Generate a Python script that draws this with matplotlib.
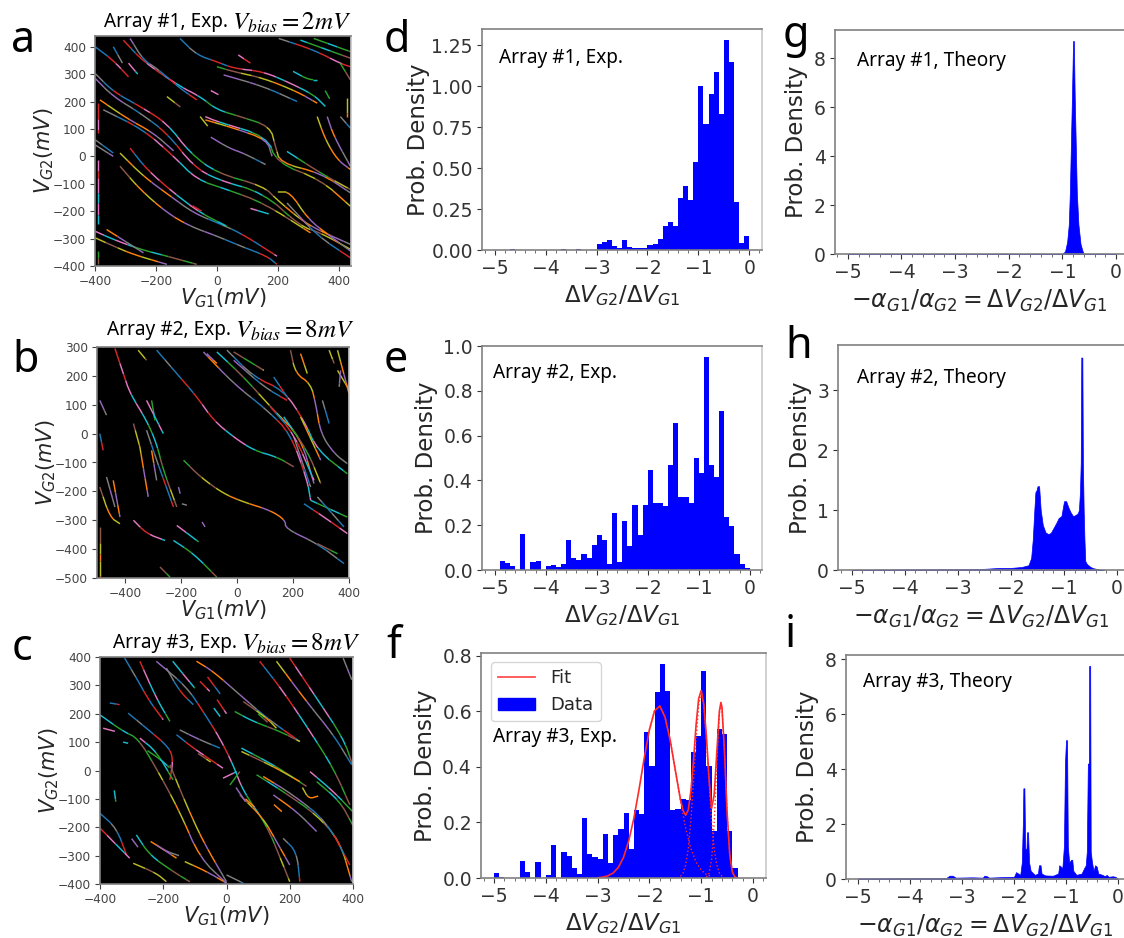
import numpy as np
import matplotlib
matplotlib.use("Agg")
import matplotlib.pyplot as plt
from matplotlib.collections import LineCollection
from matplotlib.lines import Line2D
from matplotlib.patches import Patch
from matplotlib.ticker import MultipleLocator

# ---------- histogram data (bin edges -5.0 ... 0.0, width 0.1) ----------
bin_edges = np.arange(51) * 0.1 - 5.0
hist_d = [0, 0, 0, .004, 0, 0, 0, 0, 0, 0,
          0, 0, 0, .008, 0, 0, .008, 0, 0, 0,
          .035, .05, .06, .025, .01, .06, .02, .012, .012, .012,
          .03, .035, .065, .145, .17, .145, .315, .39, .305, .54,
          1.0, .77, .95, 1.085, .83, 1.28, 1.15, .295, .04, .085]
hist_e = [0, .04, .03, .02, 0, .16, 0, .035, .04, 0,
          .018, .022, .015, .025, .135, .055, .045, .07, .055, .11,
          .155, .135, .025, .255, .035, .22, .105, .29, .155, .29,
          .445, .3, .3, .285, .47, .655, .325, .325, .3, .5,
          .435, .95, .47, .415, .71, .235, .195, .07, .025, .008]
hist_f = [.017, .005, 0, 0, 0, .062, .02, 0, .058, 0,
          .012, .12, 0, .095, .08, .037, .015, .215, .088, .075,
          .07, .158, .055, .155, .175, .235, .105, .245, .23, .525,
          .405, .67, .77, .675, .245, .25, .285, .28, .455, .51,
          .745, .405, .17, .535, .52, .17, .037, 0, 0, 0]

# ---------- fit curves ----------
fit_x = [-3.0, -2.9, -2.8, -2.7, -2.6, -2.5, -2.4, -2.3, -2.2, -2.1, -2.0, -1.9, -1.8, -1.7, -1.6, -1.5, -1.4,
         -1.35, -1.3, -1.25, -1.2, -1.15, -1.1, -1.05, -1.0, -.95, -.9, -.85, -.8, -.75, -.7, -.65, -.62, -.6,
         -.55, -.5, -.45, -.4, -.35, -.3]
fit_y = [.001, .003, .008, .018, .038, .074, .133, .215, .319, .432, .534, .602, .619, .58, .497, .388, .282,
         .243, .226, .245, .312, .42, .55, .645, .675, .625, .51, .36, .25, .30, .45, .60, .632, .615,
         .45, .233, .085, .022, .004, 0]
comp1_x = [-2.0, -1.9, -1.8, -1.7, -1.6, -1.5, -1.4, -1.3, -1.2, -1.1, -1.0, -.9, -.8]
comp1_y = [.534, .602, .619, .58, .497, .388, .276, .179, .106, .0575, .028, .0127, .0052]
comp2_x = [-1.4, -1.35, -1.3, -1.25, -1.2, -1.15, -1.1, -1.05, -1.0, -.95, -.9, -.85, -.8, -.75, -.7, -.65, -.6]
comp2_y = [.006, .018, .047, .105, .206, .344, .498, .622, .67, .622, .498, .344, .206, .105, .047, .018, .006]
comp3_x = [-.9, -.85, -.8, -.75, -.7, -.65, -.62, -.6, -.55, -.5, -.45, -.4, -.35, -.3]
comp3_y = [.003, .016, .067, .196, .405, .592, .63, .613, .449, .233, .085, .022, .004, .0005]

# ---------- theory distributions ----------
theory_g_x = [-5, -1.01, -.95, -.91, -.88, -.86, -.84, -.82, -.80, -.785, -.77, -.75, -.73, -.70, -.66, -.62, -.60, 0]
theory_g_y = [0, 0, .1, .5, 1.2, 2.5, 4.5, 6.5, 8.7, 8.7, 6.5, 4.5, 2.5, 1.2, .4, .1, 0, 0]
theory_h_x = [-5, -4, -3, -2.5, -2.2, -2, -1.8, -1.67, -1.62, -1.59, -1.56, -1.54, -1.52, -1.5, -1.47, -1.44, -1.4,
              -1.35, -1.3, -1.25, -1.2, -1.15, -1.1, -1.05, -1.0, -.96, -.92, -.88, -.83, -.78, -.74, -.72, -.70,
              -.685, -.675, -.655, -.645, -.63, -.615, -.6, -.57, -.5, -.45, -.35, -.25]
theory_h_y = [.003, .01, .012, .02, .035, .035, .05, .08, .2, .5, 1.0, 1.3, 1.33, 1.4, 1.4, 1.0, .75,
              .63, .6, .62, .7, .78, .87, .9, 1.15, 1.15, 1.05, .97, .9, .92, .95, 1.0, 1.3,
              1.8, 3.55, 3.55, 1.8, 1.0, .5, .15, .1, .05, .03, .01, 0]
theory_i_x = [-5, -4, -3.3, -3.24, -3.18, -3.12, -2.8, -2.6, -2.57, -2.52, -2.48, -2.2, -2.0, -1.96, -1.92, -1.88,
              -1.85, -1.83, -1.82, -1.80, -1.785, -1.76, -1.75, -1.73, -1.71, -1.68, -1.6, -1.54, -1.52, -1.49,
              -1.47, -1.4, -1.25, -1.15, -1.13, -1.1, -1.07, -1.04, -1.02, -1.0, -.98, -.965, -.94, -.92, -.9,
              -.88, -.86, -.8, -.7, -.65, -.62, -.6, -.58, -.56, -.555, -.535, -.525, -.5, -.47, -.44, -.41,
              -.38, -.3, -.25, -.22, -.18, -.1, -.05, 0]
theory_i_y = [.02, .03, .04, .12, .12, .05, .06, .05, .12, .1, .05, .07, .08, .25, .2, .15,
              .6, 2.0, 3.3, 3.3, 1.1, 1.1, 1.7, 1.7, .6, .3, .15, .2, .5, .5,
              .2, .13, .12, .2, .5, .45, .4, 1.2, 4.2, 5.05, 5.05, 1.2, .6, .65, .7,
              .7, .3, .15, .2, .4, .5, 1.0, 4.2, 4.2, 7.75, 7.75, 1.0, .6, .3, .5, .45,
              .2, .15, .1, .15, .08, .1, .08, 0]

# ---------- traces in the gate-voltage maps, in mV ----------
traces_a = [
    [(-121, 430), (-66, 370), (0, 345), (55, 321), (153, 309), (241, 267), (318, 224), (356, 182)],
    [(0, 327), (55, 309), (153, 285), (263, 236), (329, 194)],
    [(22, 297), (153, 255), (263, 200)],
    [(-307, 424), (-241, 345), (-121, 255), (-55, 218), (0, 170), (77, 145), (175, 109), (192, 36), (208, -24),
     (340, -61), (438, -133)],
    [(-285, 430), (-241, 351), (-197, 321), (-121, 248), (-66, 206)],
    [(-38, 145), (0, 127), (164, 73), (197, -24), (340, -85), (438, -182)],
    [(-38, 133), (55, 103), (164, 61), (181, 0)],
    [(-400, 303), (-340, 236), (-252, 182), (-164, 121), (-88, 12), (0, -61), (153, -109), (197, -158), (274, -230),
     (329, -267), (438, -321)],
    [(-400, 285), (-340, 218), (-252, 158), (-164, 85), (-77, -36), (0, -85), (153, -133), (274, -255), (340, -279),
     (438, -339)],
    [(-384, 206), (-296, 139), (-208, 85), (-142, 20)],
    [(-373, 170), (-241, 97), (-142, 0), (-66, -85), (33, -121), (153, -170), (307, -279)],
    [(-318, 12), (-241, -73), (-153, -145), (-77, -206), (0, -242), (77, -279), (197, -364)],
    [(-285, 30), (-230, -48), (-142, -133), (-55, -206), (33, -255)],
    [(-318, -36), (-252, -121), (-164, -206), (-88, -255), (0, -291), (77, -327), (164, -364), (197, -394)],
    [(-400, -273), (-340, -303), (-252, -339), (-164, -364), (-66, -394)],
    [(-400, -297), (-340, -327), (-274, -358), (-164, -394)],
    [(-362, -267), (-241, -352)],
    [(-400, 61), (-340, 12)],
    [(-400, 42), (-340, 0)],
    [(203, 430), (318, 388), (405, 339), (438, 327)],
    [(274, 424), (438, 358)],
    [(318, 430), (438, 382)],
    [(405, 339), (438, 279)],
    [(329, 145), (356, 61), (395, -12), (438, -48)],
    [(362, 145), (384, 73), (438, -36)],
    [(405, 145), (438, 103)],
    [(-390, 194), (-390, 85)],
    [(-390, -12), (-390, -110), (-390, -248)],
    [(-390, -345), (-390, -394)],
    [(428, 212), (428, 145)],
    [(-164, 218), (-120, 180)],
    [(-55, 145), (-30, 110)],
    [(-20, 70), (40, 30), (90, 10), (160, -30)],
    [(-340, 400), (-310, 340)],
    [(-400, 400), (-340, 350), (-290, 290)],
    [(-290, 340), (-260, 300)],
    [(70, 370), (110, 340)],
    [(-20, 240), (5, 225)],
    [(250, 310), (300, 280), (330, 280)],
    [(355, 240), (370, 210)],
    [(230, 18), (340, -61), (438, -121)],
    [(200, -130), (240, -130), (300, -230), (370, -290), (438, -345)],
    [(230, -170), (330, -290), (438, -370)],
    [(-80, -180), (-50, -200)],
    [(110, -190), (170, -210)],
]
traces_b = [
    [(-287, 289), (-215, 208), (-143, 127), (-84, 46), (-12, -12), (60, -58), (143, -81), (203, -115)],
    [(-191, -92), (-131, -150), (-48, -208), (24, -237), (120, -266), (173, -300), (173, -329), (287, -381), (382, -450)],
    [(-436, 295), (-406, 208), (-382, 139), (-323, 46), (-287, -35), (-263, -127), (-215, -254)],
    [(-353, 289), (-323, 254)],
    [(-347, -46), (-332, -133), (-317, -219)],
    [(-323, 12), (-287, -92), (-257, -173), (-227, -254)],
    [(-370, -300), (-323, -346), (-257, -370)],
    [(-215, -318), (-137, -375)],
    [(-227, -370), (-155, -416), (-72, -497)],
    [(-275, -462), (-239, -497)],
    [(-490, -323), (-490, -497)],
    [(-490, 115), (-466, 64)],
    [(-120, 283), (-12, 173), (108, 81), (191, 0), (251, -162), (263, -231)],
    [(-72, 283), (24, 196), (131, 81), (227, -12), (275, -173)],
    [(-36, 289), (60, 196), (167, 150), (239, 46), (287, -58), (394, -139)],
    [(-12, 283), (96, 219)],
    [(191, 289), (209, 208), (263, 173), (281, 104), (299, 0), (347, -69), (394, -104)],
    [(305, 115), (329, 35)],
    [(203, -12), (263, -185)],
    [(239, -243), (311, -289), (394, -346)],
    [(263, -231), (394, -289)],
    [(287, -381), (359, -416)],
    [(-490, -185), (-454, -289), (-418, -312)],
    [(-442, -162), (-418, -289)],
    [(-466, -150), (-436, -254)],
    [(-490, 0), (-478, -58)],
    [(-323, 115), (-263, 0)],
    [(-305, 115), (-293, 46)],
    [(-370, 35), (-347, -46)],
    [(359, 219), (394, 162)],
    [(329, 289), (347, 243)],
    [(359, 289), (400, 139)],
    [(370, 219), (365, 162)],
    [(-108, 277), (-72, 243)],
    [(-12, 254), (96, 162), (179, 115)],
    [(131, 196), (179, 127)],
    [(120, 92), (203, 0), (275, -162)],
    [(167, 58), (251, -58), (299, -173)],
    [(227, 58), (299, -92)],
    [(227, 277), (251, 208)],
    [(-305, -58), (-287, -162)],
    [(-209, -185), (-203, -208)],
    [(-197, -243), (-179, -248)],
    [(-125, -306), (-114, -323)],
    [(287, -219), (382, -323)],
]
traces_c = [
    [(-322, 396), (-285, 326), (-243, 243), (-200, 179)],
    [(-274, 385), (-222, 255), (-179, 173)],
    [(-400, 196), (-327, 138), (-280, 114), (-222, 8), (-148, -145), (-84, -309), (0, -397)],
    [(-311, 202), (-253, 149), (-179, 79), (-169, 32), (-179, -33)],
    [(-274, 114), (-222, 67), (-169, -33)],
    [(-179, 20), (-127, -121), (-74, -250), (0, -392)],
    [(-148, 143), (-84, 108), (-21, 79)],
    [(-158, 126), (-105, 79), (-11, 8)],
    [(47, 79), (158, 14), (253, -56)],
    [(47, 67), (148, 14), (232, -39)],
    [(-222, 385), (-127, 296), (-74, 208), (-21, 114), (21, 20), (53, -74), (127, -192), (179, -333), (200, -392)],
    [(-95, 385), (-42, 349), (42, 267), (127, 185), (232, 102)],
    [(105, 385), (179, 279), (264, 138), (338, 8), (390, -121)],
    [(158, 385), (253, 243), (338, 126), (396, 20)],
    [(200, 396), (285, 255), (369, 114), (399, 20)],
    [(95, -15), (179, -74), (285, -156), (359, -250), (396, -392)],
    [(116, -21), (211, -86), (317, -180), (390, -333)],
    [(264, -4), (338, -74), (399, -145)],
    [(285, -39), (359, -109), (399, -192)],
    [(42, -86), (116, -168), (158, -250), (200, -333)],
    [(179, -239), (222, -286), (232, -392)],
    [(-400, -151), (-348, -203), (-316, -298)],
    [(-400, -203), (-348, -262), (-306, -309)],
    [(-285, -227), (-243, -298), (-169, -356), (-116, -392)],
    [(-295, -327), (-222, -362), (-190, -392)],
    [(-132, -321), (-63, -356), (0, -397)],
    [(0, -368), (53, -397)],
    [(369, 396), (396, 320)],
    [(-369, 238), (-338, 232)],
    [(-390, 149), (-353, 138)],
    [(-327, 100), (-311, 96)],
    [(-11, -27), (32, -4)],
    [(11, -51), (42, -4)],
    [(26, 208), (84, 173), (169, 138), (232, 102)],
    [(53, 243), (127, 185), (158, 149)],
    [(-222, -262), (-158, -309)],
    [(148, -86), (222, -145), (285, -215)],
    [(-190, 361), (-148, 279), (-105, 232)],
    [(-84, 314), (-53, 279)],
    [(-60, 330), (-20, 270)],
    [(-30, 250), (0, 200)],
    [(-355, -70), (-350, -110)],
    [(-170, 385), (-130, 330), (-100, 290)],
    [(-40, 220), (-20, 190)],
    [(100, 200), (130, 170)],
    [(-250, 70), (-210, 40), (-180, 10)],
    [(-90, 60), (-50, 30)],
    [(60, -100), (90, -130)],
    [(150, -120), (175, -145)],
    [(240, -60), (260, -100), (290, -90)],
    [(30, -60), (60, -110)],
    [(-300, -240), (-280, -270)],
    [(-240, -250), (-190, -285), (-150, -300)],
]

title_text = ["Array #1, Exp.", "Array #2, Exp.", "Array #3, Exp."]
title_bias = [r"$V_{bias}=2mV$", r"$V_{bias}=8mV$", r"$V_{bias}=8mV$"]
hist_notes = ["Array #1, Exp.", "Array #2, Exp.", "Array #3, Exp."]
theory_notes = ["Array #1, Theory", "Array #2, Theory", "Array #3, Theory"]
panel_letters = ["a", "b", "c", "d", "e", "f", "g", "h", "i"]

# ---------- drawing ----------
W, H = 1124, 938
plt.rcParams["mathtext.fontset"] = "dejavusans"
fig = plt.figure(figsize=(W / 100, H / 100), dpi=100)
TXT = "#262626"
SANS = "Noto Sans"
BLUE = "#0000ff"
PIECE_PX = [13, 9, 16, 11, 7, 15, 10, 12]  # lengths of the coloured pieces of a trace


def ax_px(l, t, r, b):
    return fig.add_axes([l / W, 1 - b / H, (r - l) / W, (b - t) / H])


def put(x, y, s, **kw):
    return fig.text(x / W, 1 - y / H, s, **kw)


def style(ax, size, right=True):
    for sp in ax.spines.values():
        sp.set_color("#808080")
        sp.set_linewidth(1.2)
    ax.spines["right"].set_color("#c8c8c8" if right else "none")
    ax.tick_params(labelsize=size, colors="#333333", width=0.8, length=3.5, pad=3)
    ax.tick_params(which="minor", length=2, width=0.6, colors="#555555")


def rounded(tr):
    """Rounds the corners of a read polyline, for drawing only."""
    pts = np.asarray(tr, float)
    for _ in range(2):
        if len(pts) < 3:
            break
        q = 0.75 * pts[:-1] + 0.25 * pts[1:]
        r = 0.25 * pts[:-1] + 0.75 * pts[1:]
        mid = np.empty((2 * len(q), 2))
        mid[0::2], mid[1::2] = q, r
        pts = np.vstack([pts[:1], mid, pts[-1:]])
    return pts


def draw_map(ax, traces, xlim, ylim, xticks, yticks):
    ax.set_facecolor("black")
    ax.set_xlim(*xlim)
    ax.set_ylim(*ylim)
    colors = plt.get_cmap("tab10").colors
    pos = ax.get_position()
    sx = pos.width * W / (xlim[1] - xlim[0])
    sy = pos.height * H / (ylim[1] - ylim[0])
    segs, cols, k = [], [], 0
    for i, tr in enumerate(traces):
        pts = rounded(tr)
        d = np.hypot(np.diff(pts[:, 0]) * sx, np.diff(pts[:, 1]) * sy)
        s = np.r_[0, np.cumsum(d)]
        a, n = 0.0, i
        while a < s[-1]:
            b = min(a + PIECE_PX[n % len(PIECE_PX)], s[-1])
            inner = s[(s > a) & (s < b)]
            ts = np.r_[a, inner, b]
            segs.append(np.c_[np.interp(ts, s, pts[:, 0]), np.interp(ts, s, pts[:, 1])])
            cols.append(colors[k % 10])
            k += 3 if n % 3 else 7
            a, n = b, n + 1
    ax.add_collection(LineCollection(segs, colors=cols, linewidths=1.05, capstyle="butt"))
    ax.set_xticks(xticks)
    ax.set_yticks(yticks)
    style(ax, 8.7)
    ax.tick_params(colors="#444444")
    ax.set_xlabel(r"$V_{G1}(mV)$", fontsize=15, color=TXT, labelpad=-1)
    ax.set_ylabel(r"$V_{G2}(mV)$", fontsize=15, color=TXT, labelpad=-2)


def draw_hist(ax, values, xlim, ylim, yticks, fmt, ypad):
    ax.stairs(values, bin_edges, fill=True, color=BLUE, linewidth=0)
    ax.set_xlim(*xlim)
    ax.set_ylim(*ylim)
    ax.set_xticks([-5, -4, -3, -2, -1, 0])
    ax.set_yticks(yticks)
    ax.set_yticklabels([fmt % v for v in yticks])
    ax.xaxis.set_minor_locator(MultipleLocator(0.2))
    style(ax, 13.5)
    ax.set_xlabel(r"$\Delta V_{G2}/\Delta V_{G1}$", fontsize=16.5, color=TXT, labelpad=4)
    ax.set_ylabel("Prob. Density", fontsize=16.5, color=TXT, labelpad=ypad)


def draw_theory(ax, xs, ys, xlim, ylim, yticks):
    ax.fill_between(xs, 0, ys, color=BLUE, linewidth=0.5)
    ax.set_xlim(*xlim)
    ax.set_ylim(*ylim)
    ax.set_xticks([-5, -4, -3, -2, -1, 0])
    ax.set_yticks(yticks)
    ax.xaxis.set_minor_locator(MultipleLocator(0.2))
    style(ax, 13.5, right=False)
    ax.set_xlabel(r"$-\alpha_{G1}/\alpha_{G2}=\Delta V_{G2}/\Delta V_{G1}$", fontsize=17, color=TXT, labelpad=4)
    ax.set_ylabel("Prob. Density", fontsize=16.5, color=TXT, labelpad=4)


ax_a = ax_px(95, 36, 351, 266)
ax_b = ax_px(97, 347, 349, 578)
ax_c = ax_px(100, 657, 353, 884)
draw_map(ax_a, traces_a, (-400, 440), (-400, 439), range(-400, 401, 200), range(-400, 401, 100))
draw_map(ax_b, traces_b, (-500, 400), (-500, 300), range(-400, 401, 200), range(-500, 301, 100))
draw_map(ax_c, traces_c, (-400, 400), (-400, 400), range(-400, 401, 200), range(-400, 401, 100))

ax_d = ax_px(482, 29, 762, 250)
ax_e = ax_px(482, 346, 762, 570)
ax_f = ax_px(481, 653, 766, 878)
draw_hist(ax_d, hist_d, (-5.25, 0.25), (0, 1.35), [0, .25, .5, .75, 1.0, 1.25], "%.2f", 1)
draw_hist(ax_e, hist_e, (-5.25, 0.24), (0, 1.0), [0, .2, .4, .6, .8, 1.0], "%.1f", 4)
draw_hist(ax_f, hist_f, (-5.25, 0.25), (0, 0.81), [0, .2, .4, .6, .8], "%.1f", 4)

RED = "#ff2a2a"
ax_f.plot(comp1_x, comp1_y, ":", color=RED, lw=1)
ax_f.plot(comp2_x, comp2_y, ":", color=RED, lw=1)
ax_f.plot(comp3_x, comp3_y, ":", color=RED, lw=1)
ax_f.plot(fit_x, fit_y, "-", color=RED, lw=1.2)
ax_f.legend(handles=[Line2D([], [], color="#ff5050", lw=1.3, label="Fit"),
                     Patch(color=BLUE, label="Data")],
            loc="upper left", bbox_to_anchor=(0.035, 0.96), fontsize=13, borderaxespad=0,
            labelcolor=TXT, handlelength=2.05, handletextpad=0.85, labelspacing=0.5, borderpad=0.4)

ax_g = ax_px(835, 30, 1124, 254)
ax_h = ax_px(838, 345, 1124, 570)
ax_i = ax_px(846, 655, 1124, 879)
draw_theory(ax_g, theory_g_x, theory_g_y, (-5.24, 0.15), (0, 9.15), [0, 2, 4, 6, 8])
draw_theory(ax_h, theory_h_x, theory_h_y, (-5.26, 0.13), (0, 3.76), [0, 1, 2, 3])
draw_theory(ax_i, theory_i_x, theory_i_y, (-5.23, 0.115), (0, 8.15), [0, 2, 4, 6, 8])

# titles over the maps
for (x, y), s, b in zip([(104, 22), (107, 330), (113, 643)], title_text, title_bias):
    put(x, y, s, fontsize=13.7, family=SANS, color="black", va="center", ha="left")
    put(x + 128, y + 1, b, fontsize=18, color="black", va="center", ha="left", math_fontfamily="stix")

# notes inside the histograms
for (x, y), s in zip([(499, 58), (493, 373), (493, 737)], hist_notes):
    put(x, y, s, fontsize=13.7, family=SANS, color="black", va="center", ha="left")
for (x, y), s in zip([(857, 61), (857, 378), (863, 682)], theory_notes):
    put(x, y, s, fontsize=13.7, family=SANS, color="black", va="center", ha="left")

# panel letters
letter_pos = [(11, 52), (12, 372), (12, 660), (384, 52), (384, 372), (386, 658), (783, 47), (785, 358), (785, 647)]
for (x, y), s in zip(letter_pos, panel_letters):
    put(x, y, s, fontsize=31, family=SANS, color="black", va="baseline", ha="left")

fig.savefig("out.png", dpi=100, facecolor="white")
